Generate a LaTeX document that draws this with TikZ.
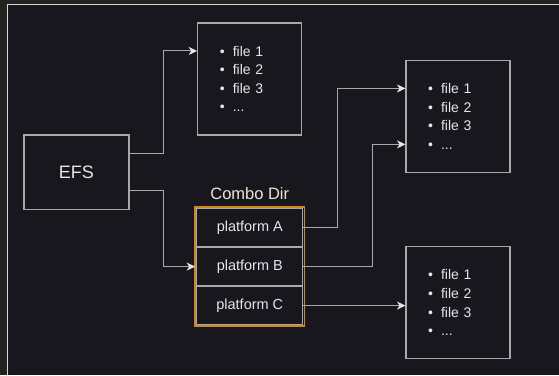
\documentclass[tikz,border=0pt]{standalone}
\usepackage{fontspec}
\setmainfont{Liberation Sans}
\usetikzlibrary{positioning,arrows.meta}

\definecolor{pagebg}{HTML}{222222}
\definecolor{canvasbg}{HTML}{18171E}
\definecolor{framegray}{HTML}{D8D8D8}
\definecolor{linegray}{HTML}{A8A8A8}
\definecolor{textgray}{HTML}{E6E6E6}
\definecolor{combotext}{HTML}{E9E6D4}
\definecolor{comboorange}{HTML}{D08621}

\newcommand{\fileitem}[1]{\makebox[13pt][l]{\textbullet}#1\\}

\begin{document}
\begin{tikzpicture}[
    x=1pt, y=-1pt,
    box/.style={draw=linegray, line width=1.3pt, text=textgray, inner sep=0pt},
    filebox/.style={box, minimum width=104pt, minimum height=112pt,
        font=\fontsize{14}{18.6}\selectfont, align=left, text width=60pt},
    platbox/.style={box, minimum width=106pt, minimum height=37.7pt,
        font=\fontsize{14.5}{17}\selectfont},
    link/.style={draw=linegray, line width=1pt,
        -{Stealth[length=8.5pt, width=8pt, inset=2.5pt, fill=textgray, color=textgray]}}
    ]
        %Background
        \fill[pagebg] (0,0) rectangle (559,375);
        \fill[canvasbg] (7,4) rectangle (559,375);
        \draw[framegray, line width=1pt] (7.5,375) -- (7.5,4.5) -- (559,4.5);

        %Nodes
        \node[box, minimum width=105pt, minimum height=75pt,
              font=\fontsize{18}{20}\selectfont]
            (efs)   at (76.5,172.5)     {EFS};
        \node[filebox]
            (filesTop)  at (250,79)     {\fileitem{file 1}\fileitem{file 2}\fileitem{file 3}\fileitem{...}};
        \node[filebox]
            (filesA)    at (458.5,116.5) {\fileitem{file 1}\fileitem{file 2}\fileitem{file 3}\fileitem{...}};
        \node[filebox]
            (filesC)    at (458.5,303)  {\fileitem{file 1}\fileitem{file 2}\fileitem{file 3}\fileitem{...}};
        \node[platbox]
            (platA)     at (250,227.85) {platform A};
        \node[platbox]
            (platB)     [below=0pt of platA]    {platform B};
        \node[platbox]
            (platC)     [below=0pt of platB]    {platform C};
        \draw[comboorange, line width=1.6pt]
            ([xshift=-1pt,yshift=1pt]platA.north west) rectangle ([xshift=1pt,yshift=-1pt]platC.south east);
        \node[text=combotext, font=\fontsize{16.5}{18}\selectfont]
            (comboLabel) [above=5pt of platA]   {Combo Dir};

        %Lines
        \draw[link]
            ([yshift=18.5pt]efs.east) -- ++(34,0) |- ([yshift=28pt]filesTop.west);
        \draw[link]
            ([yshift=-18.5pt]efs.east) -- ++(34,0) |- ([xshift=-1pt]platB.west);
        \draw[link]
            (platA.east) -- ++(34,0) |- ([yshift=28pt]filesA.west);
        \draw[link]
            (platB.east) -- ++(69,0) |- ([yshift=-28pt]filesA.west);
        \draw[link]
            (platC.east) -- (platC.east -| filesC.west);
\end{tikzpicture}
\end{document}
